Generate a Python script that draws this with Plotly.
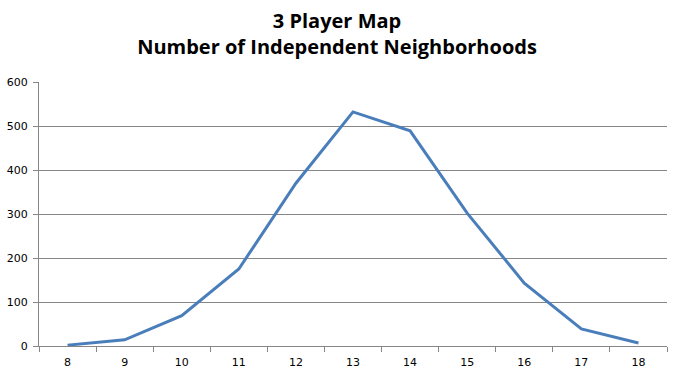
import plotly.graph_objects as go

categories = ["8", "9", "10", "11", "12", "13", "14", "15", "16", "17", "18"]
values = [2, 14, 69, 175, 370, 532, 489, 302, 143, 39, 7]
y_ticks = [0, 100, 200, 300, 400, 500, 600]

fig = go.Figure()
fig.add_trace(go.Scatter(x=categories, y=values, mode="lines",
                         line=dict(color="#4A7EBB", width=3), hoverinfo="skip"))

fig.update_layout(
    width=674, height=376,
    margin=dict(l=36, r=7, t=82, b=30),
    paper_bgcolor="white", plot_bgcolor="white",
    showlegend=False,
    title=dict(text="<b>3 Player Map<br>Number of Independent Neighborhoods</b>",
               x=0.5, xanchor="center", y=0.925, yanchor="top",
               font=dict(family="Open Sans", size=20, color="black")),
    font=dict(family="DejaVu Sans", size=11, color="black"),
)
fig.update_xaxes(type="category", tickson="boundaries", ticks="outside", ticklen=5,
                 range=[-0.5, len(categories) - 0.5], ticklabelstandoff=6,
                 tickcolor="#868686", showline=True, linecolor="#868686", linewidth=1,
                 showgrid=False, tickfont=dict(size=11))
fig.update_yaxes(range=[0, 600], tickvals=y_ticks, ticks="outside", ticklen=5,
                 ticklabelstandoff=3,
                 tickcolor="#868686", showline=True, linecolor="#868686", linewidth=1,
                 showgrid=True, gridcolor="#868686", gridwidth=1, zeroline=False,
                 tickfont=dict(size=11))

fig.write_html("out.html")
